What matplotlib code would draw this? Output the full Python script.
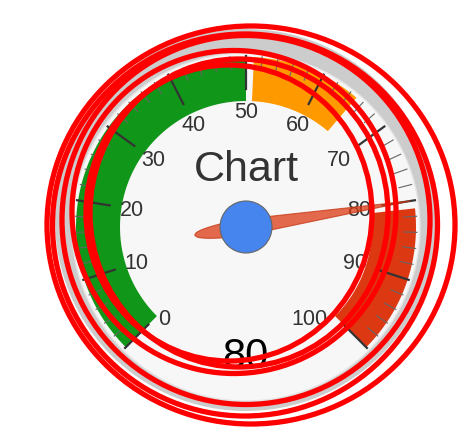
import numpy as np
import matplotlib
matplotlib.use("Agg")
import matplotlib.pyplot as plt
from matplotlib.patches import Polygon, Circle, Ellipse

plt.rcParams["font.family"] = ["Liberation Sans", "DejaVu Sans"]

# gauge data
title = "Chart"
value = 80
vmin, vmax = 0, 100
band_from = [0, 51, 81]
band_to = [50, 65, 100]
band_colors = ["#109618", "#ff9900", "#dc3912"]
major_ticks = list(range(0, 101, 10))
minor_ticks = [v for v in range(0, 101, 2) if v % 10]
tick_labels = [str(v) for v in major_ticks]

# layout (pixels, y down)
cx, cy = 246, 228
r_band_in, r_band_out = 126, 170


def pt(v, r):
    a = np.radians(-135 + 270 * (v - vmin) / (vmax - vmin))
    return cx + r * np.sin(a), cy - r * np.cos(a)


fig = plt.figure(figsize=(4.68, 4.39), dpi=100)
ax = fig.add_axes([0, 0, 1, 1])
ax.set_xlim(0, 468)
ax.set_ylim(439, 0)
ax.axis("off")

# outer ring + face
ax.add_patch(Circle((cx, cy - 7), 191, fc="#cccccc", ec="none", zorder=1))
ax.add_patch(Circle((cx, cy), 174, fc="#f7f7f7", ec="#e6e6e6", lw=1, zorder=1))

# colour bands
for v0, v1, col in zip(band_from, band_to, band_colors):
    vs = np.linspace(v0, v1, 80)
    outer = [pt(v, r_band_out) for v in vs]
    inner = [pt(v, r_band_in) for v in vs[::-1]]
    ax.add_patch(Polygon(outer + inner, closed=True, fc=col, ec="none", zorder=2))

# ticks
for v in minor_ticks:
    (x0, y0), (x1, y1) = pt(v, 158), pt(v, 171)
    ax.plot([x0, x1], [y0, y1], color="#666666", lw=0.8, zorder=3)
for v in major_ticks:
    (x0, y0), (x1, y1) = pt(v, 138), pt(v, 171)
    ax.plot([x0, x1], [y0, y1], color="#333333", lw=1.6, zorder=3)

# tick labels
for v, lab in zip(major_ticks, tick_labels):
    x, y = pt(v, 115)
    va = "top" if v in (vmin, vmax) else "center"
    ha = "right" if v == vmax else "center"
    ax.text(x, y, lab, ha=ha, va=va, fontsize=15.5, color="#333333", zorder=3)

ax.text(cx, 170, title, ha="center", va="center", fontsize=31, color="#333333", zorder=3)
ax.text(cx - 1, 357, str(value), ha="center", va="center", fontsize=30, color="black", zorder=3)

# needle
a = np.radians(-135 + 270 * (value - vmin) / (vmax - vmin))
d = np.array([np.sin(a), -np.cos(a)])
n = np.array([np.cos(a), np.sin(a)])
tail, tip, w = 52, 166, 8
s_back = np.linspace(-tail, 0, 30)
s_front = np.linspace(0, tip, 30)
half = np.concatenate([w * np.sqrt(1 - (s_back / tail) ** 2), w * (1 - s_front / tip)])
s = np.concatenate([s_back, s_front])
top = [np.array([cx, cy]) + si * d + hi * n for si, hi in zip(s, half)]
bot = [np.array([cx, cy]) + si * d - hi * n for si, hi in zip(s[::-1], half[::-1])]
ax.add_patch(Polygon(top + bot, closed=True, fc="#dc3912", alpha=0.75, ec="#c63310", lw=0.8, zorder=4))
ax.add_patch(Circle((cx, cy), 26, fc="#4684ee", ec="#666666", lw=0.8, zorder=5))

# red scribbles drawn over the gauge
scribbles = [(251, 226, 408, 398), (245, 226, 385, 382), (246, 221, 368, 369),
             (234, 213, 324, 323), (229, 214, 286, 296), (239, 214, 298, 308)]
for ex, ey, ew, eh in scribbles:
    ax.add_patch(Ellipse((ex, ey), ew, eh, fill=False, ec="#ff0000", lw=3.8, zorder=6))

fig.savefig("out.png", dpi=100)
